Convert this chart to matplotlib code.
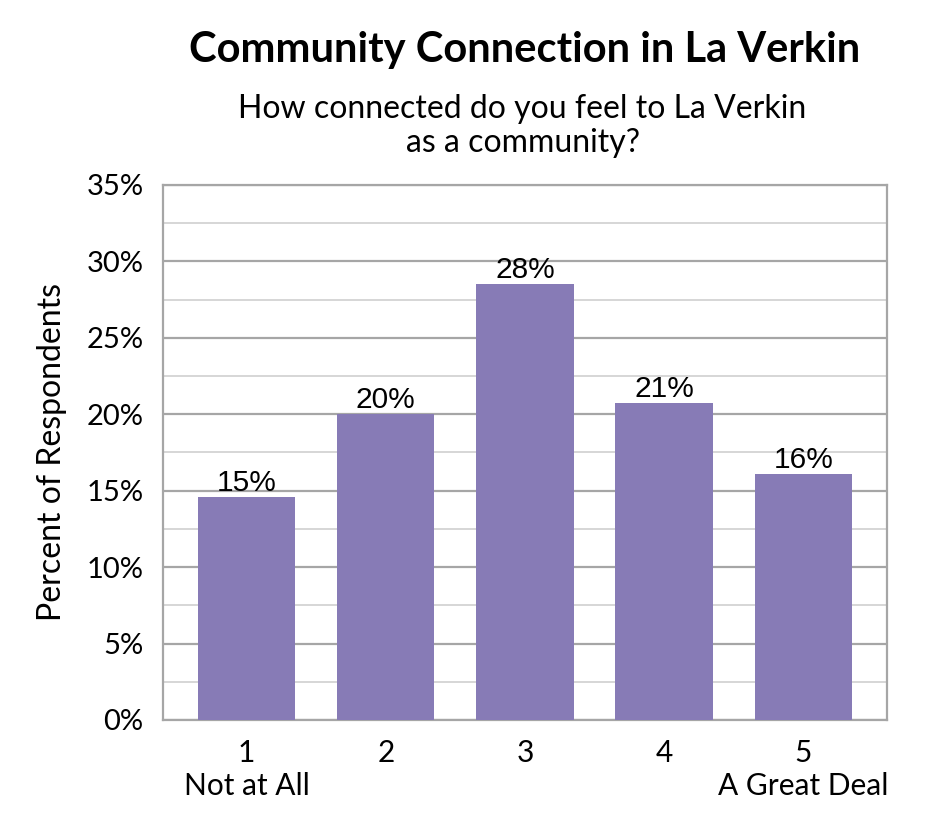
import numpy as np
import matplotlib.pyplot as plt

# Data
cats = ['1\nNot at All', '2', '3', '4', '5\nA Great Deal']
vals = [14.6, 20.0, 28.5, 20.75, 16.1]
labels = ['15%', '20%', '28%', '21%', '16%']

plt.rcParams['font.family'] = ['Lato', 'DejaVu Sans']

fig = plt.figure(figsize=(9.45, 8.4), dpi=100)
ax = fig.add_axes([0.1725, 0.1429, 0.7661, 0.6369])

x = np.arange(len(vals))
ax.bar(x, vals, width=0.7, color='#877bb6', zorder=3)
for xi, v, lab in zip(x, vals, labels):
    ax.text(xi, v, lab, ha='center', va='bottom', fontsize=21.5,
            family='Liberation Sans', zorder=4)

ax.set_xlim(-0.6, 4.6)
ax.set_ylim(0, 35)
ax.set_yticks(np.arange(0, 36, 5))
ax.set_yticklabels([f'{t}%' for t in range(0, 36, 5)])
ax.set_yticks(np.arange(2.5, 35, 5), minor=True)
ax.grid(axis='y', which='major', color='#a6a6a6', lw=1.6, zorder=0)
ax.grid(axis='y', which='minor', color='#d0d0d0', lw=1.2, zorder=0)
ax.set_xticks(x)
ax.set_xticklabels(cats)
ax.tick_params(which='both', length=0)
ax.tick_params(axis='y', labelsize=21, pad=14)
ax.tick_params(axis='x', labelsize=21.5, pad=14)
for s in ax.spines.values():
    s.set_color('#a6a6a6')
    s.set_linewidth(1.6)

ax.set_ylabel('Percent of Respondents', fontsize=23, labelpad=14)

fig.text(0.555, 0.94, 'Community Connection in La Verkin', ha='center', va='center',
         fontsize=30, fontweight='bold')
fig.text(0.553, 0.85, 'How connected do you feel to La Verkin\nas a community?',
         ha='center', va='center', fontsize=23, linespacing=1.2)

plt.savefig('out.png', dpi=100)
